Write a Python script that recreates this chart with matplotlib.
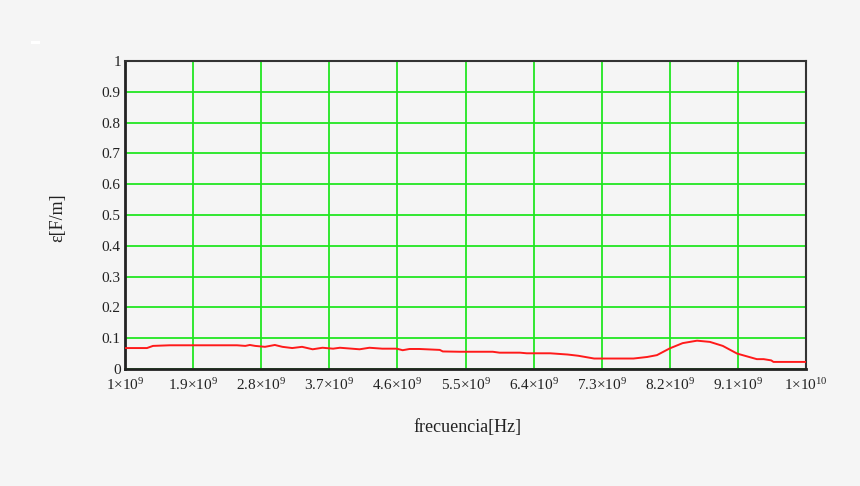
#!/usr/bin/env python3

import numpy as np
import matplotlib.pyplot as plt
from matplotlib.patches import Rectangle

# frequency [GHz] and permittivity [F/m]
freq_ghz = [1.00, 1.29, 1.37, 1.59, 2.48, 2.59, 2.65, 2.72, 2.85, 2.98,
            3.08, 3.21, 3.34, 3.48, 3.61, 3.75, 3.84, 4.10, 4.23, 4.40,
            4.59, 4.67, 4.76, 4.89, 5.16, 5.20, 5.42, 5.86, 5.95, 6.22,
            6.31, 6.62, 6.85, 6.99, 7.20, 7.72, 7.90, 8.03, 8.20, 8.37,
            8.56, 8.73, 8.90, 9.09, 9.35, 9.44, 9.54, 9.57, 10.00]
eps = [0.068, 0.068, 0.075, 0.077, 0.077, 0.075, 0.078, 0.075, 0.072, 0.078,
       0.072, 0.068, 0.072, 0.064, 0.069, 0.066, 0.069, 0.064, 0.069, 0.066,
       0.066, 0.061, 0.065, 0.065, 0.062, 0.057, 0.056, 0.056, 0.053, 0.053,
       0.051, 0.051, 0.047, 0.043, 0.034, 0.034, 0.039, 0.045, 0.067, 0.084,
       0.092, 0.088, 0.075, 0.050, 0.032, 0.032, 0.028, 0.023, 0.023]

xtick_labels = ['1×10$^{9}$', '1.9×10$^{9}$', '2.8×10$^{9}$', '3.7×10$^{9}$',
                '4.6×10$^{9}$', '5.5×10$^{9}$', '6.4×10$^{9}$', '7.3×10$^{9}$',
                '8.2×10$^{9}$', '9.1×10$^{9}$', '1×10$^{10}$']
ytick_labels = ['0', '0.1', '0.2', '0.3', '0.4', '0.5', '0.6', '0.7', '0.8', '0.9', '1']


def main():
    plt.rcParams['font.family'] = ['Liberation Serif', 'DejaVu Serif']
    plt.rcParams['mathtext.fontset'] = 'custom'
    plt.rcParams['mathtext.rm'] = 'Liberation Serif'
    plt.rcParams['mathtext.it'] = 'Liberation Serif'

    bg = '#f5f5f5'
    fig = plt.figure(figsize=(8.6, 4.86), dpi=100, facecolor=bg)
    ax = fig.add_axes([125/860, 1-369/486, 681/860, 308/486], facecolor=bg)

    f = np.array(freq_ghz) * 1e9
    ax.plot(f, eps, color='#ff1a1a', lw=1.4, zorder=3)

    xt = np.linspace(1e9, 1e10, len(xtick_labels))
    ax.set_xticks(xt)
    ax.set_xticklabels(xtick_labels, fontsize=11, color='#222222')
    ax.set_yticks(np.linspace(0, 1, len(ytick_labels)))
    ax.set_yticklabels(ytick_labels, fontsize=11, color='#222222')
    ax.set_xlim(1e9, 1e10)
    ax.set_ylim(0, 1)
    ax.tick_params(length=0)
    ax.tick_params(axis='x', pad=6)
    ax.tick_params(axis='y', pad=3)
    ax.grid(True, color='#22e622', lw=1.3, zorder=1)

    for side in ['left', 'bottom']:
        ax.spines[side].set_linewidth(2)
        ax.spines[side].set_color('#222222')
    for side in ['top', 'right']:
        ax.spines[side].set_linewidth(1.5)
        ax.spines[side].set_color('#333333')

    fig.text(58/860, 1-218/486, 'ε[F/m]', rotation=90, ha='center', va='center',
             fontsize=13, color='#222222')
    fig.text(467/860, 1-427/486, 'frecuencia[Hz]', ha='center', va='center',
             fontsize=13, color='#222222')

    fig.add_artist(Rectangle((31/860, 1-44/486), 9/860, 3/486,
                             transform=fig.transFigure, color='white', lw=0))

    plt.savefig('out.png', facecolor=bg)


if __name__ == '__main__':
    main()
